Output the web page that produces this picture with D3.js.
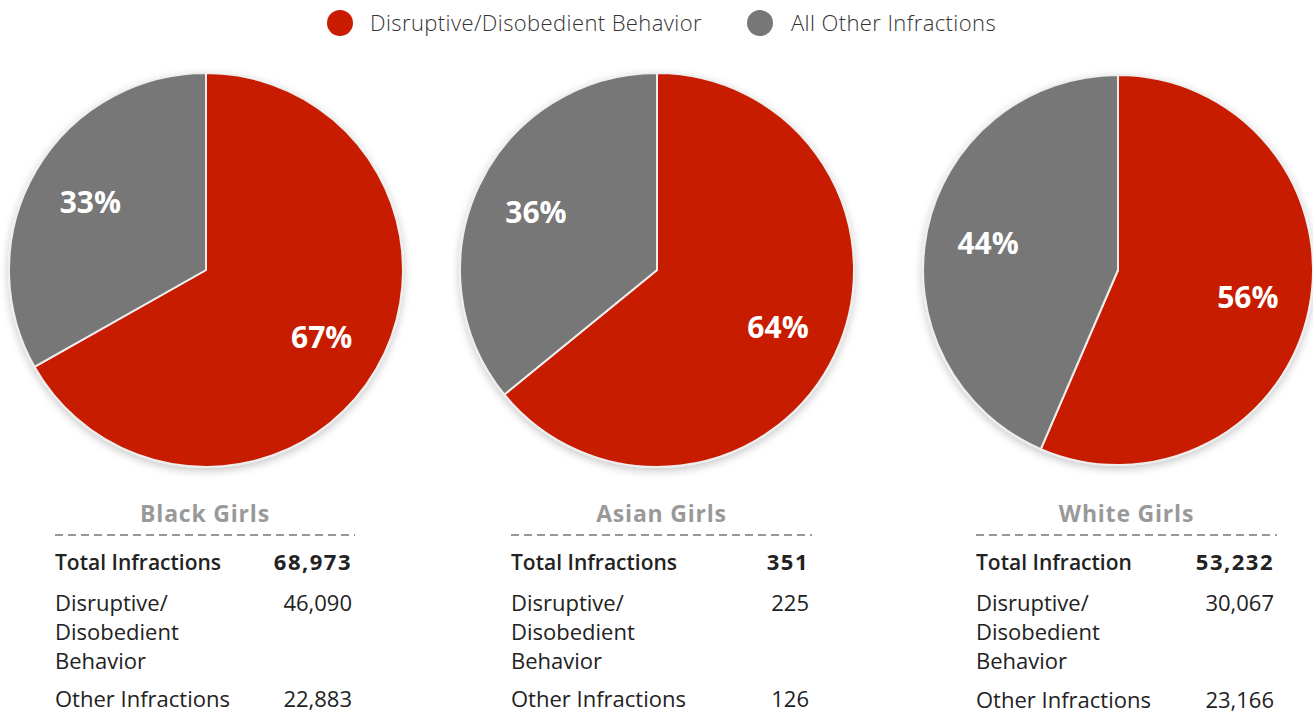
<!DOCTYPE html>
<html>
<head>
<meta charset="utf-8">
<script src="https://cdn.jsdelivr.net/npm/d3@7/dist/d3.min.js"></script>
<style>
  html, body { margin: 0; padding: 0; background: #fff; }
  svg { display: block; }
  text { font-family: "Open Sans", Lato, sans-serif; }
</style>
</head>
<body>
<svg id="chart" width="1313" height="715"></svg>
<script>
// Infractions among girls, by race
const groups = ["Black Girls", "Asian Girls", "White Girls"];
const totalLabels = ["Total Infractions", "Total Infractions", "Total Infraction"];
const totals = [68973, 351, 53232];
const disruptive = [46090, 225, 30067];
const otherInfractions = [22883, 126, 23166];
const seriesNames = ["Disruptive/Disobedient Behavior", "All Other Infractions"];
const seriesColors = ["#c81b00", "#777777"];

// layout
const W = 1313, H = 715;
const pieCenters = [206, 657, 1118];
const pieRadii = [197, 197, 195];
const pieY = 270;
const tableLeft = [55, 511, 976];
const tableRight = [355, 812, 1277];

const svg = d3.select("#chart");
const fmt = d3.format(",");
const color = d3.scaleOrdinal().domain(seriesNames).range(seriesColors);

// soft shadow under each pie
const defs = svg.append("defs");
const f = defs.append("filter").attr("id", "pieShadow")
  .attr("x", "-20%").attr("y", "-20%").attr("width", "140%").attr("height", "140%");
f.append("feDropShadow").attr("dx", 0).attr("dy", 3).attr("stdDeviation", 4)
  .attr("flood-color", "#000").attr("flood-opacity", 0.22);

// legend
const legendItems = [
  { name: seriesNames[0], cx: 340, tx: 370 },
  { name: seriesNames[1], cx: 760, tx: 791 }
];
const legend = svg.append("g");
legend.selectAll("circle").data(legendItems).join("circle")
  .attr("cx", d => d.cx).attr("cy", 23).attr("r", 13)
  .attr("fill", d => color(d.name));
legend.selectAll("text").data(legendItems).join("text")
  .attr("x", d => d.tx).attr("y", 31)
  .attr("font-size", 22).attr("fill", "#333").attr("font-weight", 300)
  .attr("letter-spacing", 0.4)
  .text(d => d.name);

const pie = d3.pie().sort(null).value(d => d.value);

groups.forEach((g, i) => {
  const values = [
    { name: seriesNames[0], value: disruptive[i] },
    { name: seriesNames[1], value: otherInfractions[i] }
  ];
  const sum = d3.sum(values, d => d.value);
  const R = pieRadii[i];
  const arc = d3.arc().innerRadius(0).outerRadius(R);
  const labelArc = d3.arc().innerRadius(R * 0.68).outerRadius(R * 0.68);
  const arcs = pie(values);

  const gp = svg.append("g").attr("transform", `translate(${pieCenters[i]},${pieY})`);
  gp.append("g").attr("filter", "url(#pieShadow)")
    .selectAll("path").data(arcs).join("path")
    .attr("d", arc)
    .attr("fill", d => color(d.data.name))
    .attr("stroke", "#eeeeee").attr("stroke-width", 2).attr("stroke-linejoin", "round");

  gp.selectAll("text.pct").data(arcs).join("text")
    .attr("class", "pct")
    .attr("transform", d => `translate(${labelArc.centroid(d)})`)
    .attr("text-anchor", "middle").attr("dy", "0.36em")
    .attr("font-size", 30).attr("font-weight", 700).attr("fill", "#fff")
    .text(d => Math.round(d.data.value / sum * 100) + "%");

  // summary table
  const L = tableLeft[i], Rt = tableRight[i];
  const vx = Rt - 3;
  const t = svg.append("g");
  t.append("text").attr("x", (L + Rt) / 2).attr("y", 522)
    .attr("text-anchor", "middle").attr("font-size", 23).attr("font-weight", 700)
    .attr("letter-spacing", 0.8)
    .attr("fill", "#999").text(g);
  t.append("line").attr("x1", L).attr("x2", Rt).attr("y1", 535).attr("y2", 535)
    .attr("stroke", "#999").attr("stroke-width", 2).attr("stroke-dasharray", "8,5");

  t.append("text").attr("x", L).attr("y", 570)
    .attr("font-size", 21).attr("font-weight", 600).attr("fill", "#222")
    .text(totalLabels[i]);
  t.append("text").attr("x", vx).attr("y", 570).attr("text-anchor", "end")
    .attr("font-size", 22).attr("font-weight", 700).attr("fill", "#222")
    .attr("letter-spacing", 1.5)
    .text(fmt(totals[i]));

  ["Disruptive/", "Disobedient", "Behavior"].forEach((line, k) => {
    t.append("text").attr("x", L).attr("y", 611 + k * 29)
      .attr("font-size", 22).attr("fill", "#222").text(line);
  });
  t.append("text").attr("x", vx).attr("y", 611).attr("text-anchor", "end")
    .attr("font-size", 22).attr("fill", "#222").text(fmt(disruptive[i]));

  const oy = i === 2 ? 708 : 707;
  t.append("text").attr("x", L).attr("y", oy)
    .attr("font-size", 22).attr("fill", "#222").text("Other Infractions");
  t.append("text").attr("x", vx).attr("y", oy).attr("text-anchor", "end")
    .attr("font-size", 22).attr("fill", "#222").text(fmt(otherInfractions[i]));
});
</script>
</body>
</html>
